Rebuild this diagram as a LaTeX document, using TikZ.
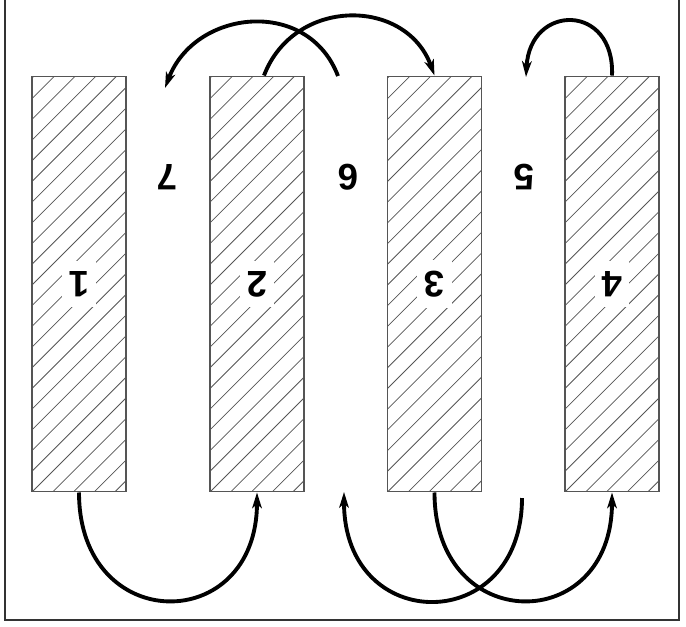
\documentclass[tikz,border=0pt]{standalone}
\usepackage{fontspec}
\setmainfont{Liberation Sans}
\usetikzlibrary{arrows.meta, calc}
\definecolor{framegray}{HTML}{333333}
\definecolor{wallgray}{HTML}{555555}

\begin{document}
\begin{tikzpicture}[x=0.02cm, y=-0.02cm,
    plate/.style={draw=wallgray, line width=0.6pt, minimum width=1.88cm, minimum height=8.32cm, inner sep=0pt,
      path picture={\foreach \k in {-21,...,5}
        \draw[line width=0.45pt] ($(path picture bounding box.south west)+(\k*20.7,0)$) -- ++(430,-430);}},
    num/.style={fill=white, rotate=180, font=\fontsize{21}{25}\selectfont\bfseries, inner xsep=4pt, inner ysep=6pt},
    flow/.style={line width=2.2pt, -{Stealth[length=9pt,width=5.5pt,inset=2.5pt]}}]
  \useasboundingbox (0,0) rectangle (686,626);
  \draw[framegray, line width=1.3pt] (5,0) -- (5,620) -- (679,620) -- (679,0);
  % plates with their numbers
  \foreach \n/\x in {1/79, 2/257, 3/434.5, 4/612} {
    \node[plate] (p\n) at (\x,284) {};
    \node[num] (n\n) at (p\n.center) {\n};
  }
  % gaps between the plates
  \node[num, fill=none] (n7) at (167,177) {7};
  \node[num, fill=none] (n6) at (348,177) {6};
  \node[num, fill=none] (n5) at (524,177) {5};
  \coordinate (g7top) at (165,88);
  \coordinate (g6top) at (338,76);
  \coordinate (g5top) at (526,77);
  \coordinate (g6bot) at (344,492);
  \coordinate (g5bot) at (522,498);
  % top arrows
  \draw[flow] (g6top) .. controls (308,-3) and (195,9) .. (g7top);
  \draw[flow] ($(p2.north)+(7,0)$) .. controls (294,-3) and (406,-3) .. (p3.north);
  \draw[flow] (p4.north) .. controls (615,3) and (530,3) .. (g5top);
  % bottom arrows
  \draw[flow] (p1.south) .. controls (79,636) and (257,636) .. (p2.south);
  \draw[flow] (g5bot) .. controls (522,636) and (344,636) .. (g6bot);
  \draw[flow] (p3.south) .. controls (434.5,636) and (612,636) .. (p4.south);
\end{tikzpicture}
\end{document}
